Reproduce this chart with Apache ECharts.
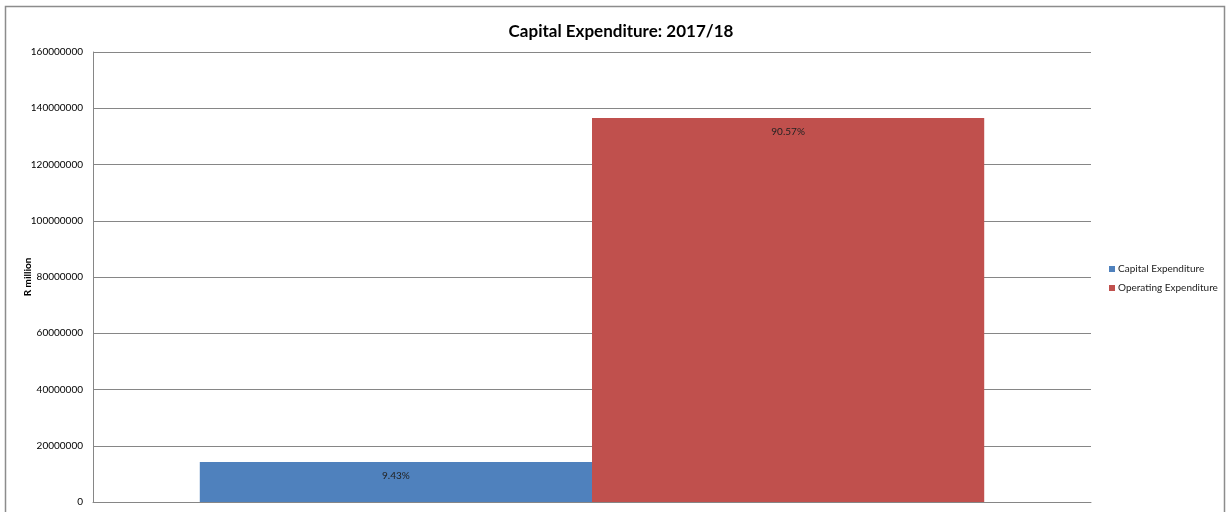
<!DOCTYPE html>
<html>
<head>
<meta charset="utf-8">
<script src="https://cdn.jsdelivr.net/npm/echarts@6/dist/echarts.min.js"></script>
<style>
	html, body { margin: 0; padding: 0; background: #fff; }
	#chart { width: 1227px; height: 512px; }
</style>
</head>
<body>
<div id="chart"></div>
<script>
	// data
	var categories = ['2017/18'];
	var seriesNames = ['Capital Expenditure', 'Operating Expenditure'];
	var capitalValues = [14220000];
	var operatingValues = [136530000];
	var shareLabels = ['9.43%', '90.57%'];
	var yTicks = { min: 0, max: 160000000, interval: 20000000 };

	var chart = echarts.init(document.getElementById('chart'));

	var labelStyle = function (txt) {
		return {
			show: true,
			position: 'insideTop',
			distance: 9,
			formatter: txt,
			color: '#222',
			fontFamily: 'Lato',
			fontSize: 10
		};
	};

	var option = {
		animation: false,
		backgroundColor: '#fff',
		title: {
			text: 'Capital Expenditure: 2017/18',
			left: 616,
			top: 18,
			textAlign: 'center',
			textStyle: {
				fontFamily: 'Lato',
				fontWeight: 'bold',
				fontSize: 17,
				color: '#000'
			}
		},
		graphic: [{
			type: 'rect',
			shape: { x: 5.5, y: 6.5, width: 1219, height: 530 },
			style: { fill: 'none', stroke: '#8c8c8c', lineWidth: 1.5 },
			silent: true
		}],
		legend: {
			orient: 'vertical',
			left: 1104,
			top: 259,
			itemWidth: 6,
			itemHeight: 6,
			itemGap: 9,
			icon: 'rect',
			textStyle: { fontFamily: 'Lato', fontSize: 10, color: '#222', padding: [0, 0, 0, -2] },
			data: seriesNames
		},
		grid: {
			left: 93,
			right: 136,
			top: 52,
			bottom: 10
		},
		xAxis: {
			type: 'category',
			data: categories,
			axisLine: { lineStyle: { color: '#868686' } },
			axisTick: { show: false },
			axisLabel: { show: false }
		},
		yAxis: {
			type: 'value',
			min: yTicks.min,
			max: yTicks.max,
			interval: yTicks.interval,
			name: 'R million',
			nameLocation: 'middle',
			nameGap: 60,
			nameMoveOverlap: false,
			nameRotate: 90,
			nameTextStyle: { fontFamily: 'Lato', fontWeight: 'bold', fontSize: 10, color: '#000' },
			axisLine: { show: true, lineStyle: { color: '#868686' } },
			axisTick: { show: false },
			axisLabel: {
				fontFamily: 'Lato', fontSize: 10, color: '#000', margin: 10,
				formatter: function (v) { return String(v); }
			},
			splitLine: { lineStyle: { color: '#868686', width: 1 } }
		},
		series: [{
			name: seriesNames[0],
			type: 'bar',
			data: capitalValues,
			barGap: '0%',
			barCategoryGap: '21.4%',
			itemStyle: { color: '#4f81bd' },
			label: labelStyle(shareLabels[0])
		}, {
			name: seriesNames[1],
			type: 'bar',
			data: operatingValues,
			barGap: '0%',
			barCategoryGap: '21.4%',
			itemStyle: { color: '#c0504d' },
			label: labelStyle(shareLabels[1])
		}]
	};

	chart.setOption(option);
</script>
</body>
</html>
